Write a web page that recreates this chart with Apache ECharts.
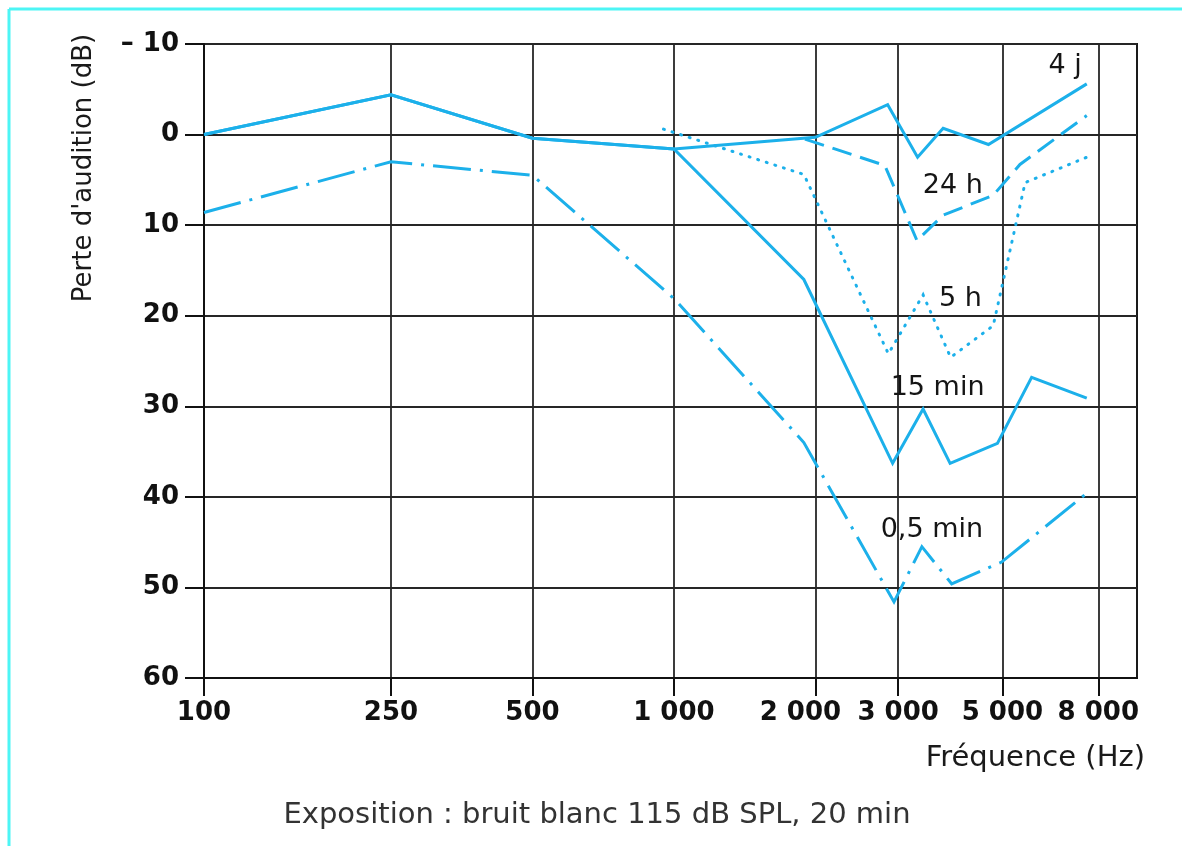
<!DOCTYPE html>
<html><head><meta charset="utf-8">
<script src="https://cdn.jsdelivr.net/npm/echarts@6/dist/echarts.min.js"></script>
<style>html,body{margin:0;padding:0;background:#fff}#c{width:1182px;height:846px}</style>
</head><body><div id="c"></div>
<script>
// ---- data ----
const freqTicks = [100, 250, 500, 1000, 2000, 3000, 5000, 8000];
const yMin = -10, yMax = 60, yStep = 10;

const f4j   = [100, 250, 500, 1000, 2000, 2850, 3300, 3740, 4670, 7560];
const v4j   = [0, -4.4, 0.4, 1.6, 0.3, -3.3, 2.5, -0.7, 1.1, -5.6];

const f24h  = [1900, 2810, 3290, 3740, 4780, 5450, 7560];
const v24h  = [0.5, 3.4, 11.7, 8.9, 6.7, 3.3, -2.1];

const f5h   = [950, 1890, 2860, 3390, 3880, 4780, 5590, 7560];
const v5h   = [-0.6, 4.4, 24.2, 17.7, 24.6, 21.1, 5.3, 2.5];

const f15m  = [100, 250, 500, 1000, 1890, 2920, 3390, 3870, 4880, 5770, 7560];
const v15m  = [0, -4.4, 0.4, 1.6, 16.0, 36.3, 30.3, 36.3, 34.1, 26.8, 29.1];

const f05m  = [100, 250, 500, 1000, 1890, 2940, 3370, 3900, 4980, 7560];
const v05m  = [8.6, 3.0, 4.5, 18.1, 34.0, 51.6, 45.5, 49.6, 47.2, 39.6];

const seriesNames = ['4 j', '24 h', '5 h', '15 min', '0,5 min'];
const labelFreq = [6800, 3920, 4070, 3640, 3540];
const labelVal  = [-7.6, 5.7, 18.1, 28.0, 43.7];

const titleText = 'Exposition : bruit blanc 115 dB SPL, 20 min';
const xName = 'Fréquence (Hz)';
const yName = "Perte d'audition (dB)";

// ---- chart ----
const FONT = 'DejaVu Sans';
const LINE = '#1cb0ea';
const pairs = (f, v) => f.map((x, i) => [x, v[i]]);

const styles = [
  { type: 'solid', cap: 'butt' },
  { type: [20, 9], cap: 'butt' },
  { type: [1, 8], cap: 'round' },
  { type: 'solid', cap: 'butt' },
  { type: [38, 9, 3, 9], cap: 'butt' }
];
const dataSets = [pairs(f4j, v4j), pairs(f24h, v24h), pairs(f5h, v5h), pairs(f15m, v15m), pairs(f05m, v05m)];

const series = seriesNames.map((name, i) => ({
  name: name,
  type: 'line',
  data: dataSets[i],
  showSymbol: false,
  symbol: 'none',
  lineStyle: { color: LINE, width: 3, type: styles[i].type, cap: styles[i].cap, join: 'miter' },
  z: 3,
  markPoint: {
    symbol: 'circle',
    symbolSize: 1,
    itemStyle: { color: 'rgba(0,0,0,0)' },
    label: {
      show: true, position: 'inside', formatter: name,
      fontFamily: FONT, fontSize: 27, color: '#151515'
    },
    data: [{ coord: [labelFreq[i], labelVal[i]] }]
  }
}));

const fmtFreq = v => {
  const n = Math.round(v);
  const s = String(n);
  const t = s.length > 3 ? s.slice(0, s.length - 3) + ' ' + s.slice(-3) : s;
  return n === 2000 ? '{l|' + t + '}' : '{n|' + t + '}';
};
const tickFont = { fontFamily: FONT, fontSize: 26, fontWeight: 'bold', color: '#111' };

const chart = echarts.init(document.getElementById('c'), null, { renderer: 'canvas' });
chart.setOption({
  animation: false,
  backgroundColor: '#fff',
  grid: { left: 204, right: 45, top: 44, bottom: 168, show: true, borderColor: '#1a1a1a', borderWidth: 2, backgroundColor: '#fff' },
  xAxis: {
    type: 'log', logBase: 10, min: 100, max: 9670,
    axisLine: { show: true, onZero: false, lineStyle: { color: '#111', width: 2 } },
    axisTick: { show: true, inside: false, length: 18, customValues: freqTicks, lineStyle: { color: '#111', width: 2 } },
    axisLabel: Object.assign({ show: true, customValues: freqTicks, formatter: fmtFreq, margin: 22,
      rich: { n: Object.assign({}, tickFont), l: Object.assign({ padding: [0, 30, 0, 0] }, tickFont) } }, tickFont),
    splitLine: { show: true, lineStyle: { color: '#262626', width: 1.8 } },
    minorTick: { show: false }, minorSplitLine: { show: false }
  },
  yAxis: {
    type: 'value', min: yMin, max: yMax, interval: yStep, inverse: true,
    axisLine: { show: true, onZero: false, lineStyle: { color: '#111', width: 2 } },
    axisTick: { show: true, inside: false, length: 19, lineStyle: { color: '#111', width: 2 } },
    axisLabel: Object.assign({ margin: 25,
      formatter: v => v < 0 ? '\u2013 ' + Math.abs(v) : String(v) }, tickFont),
    splitLine: { show: true, lineStyle: { color: '#262626', width: 1.8 } }
  },
  series: series,
  graphic: [
    { type: 'line', shape: { x1: 9, y1: 9, x2: 1182, y2: 9 }, style: { stroke: '#4df5f5', lineWidth: 3 }, silent: true },
    { type: 'line', shape: { x1: 9, y1: 9, x2: 9, y2: 846 }, style: { stroke: '#4df5f5', lineWidth: 3 }, silent: true },
    { type: 'text', x: 84, y: 168, rotation: Math.PI / 2,
      style: { text: yName, font: '26px "DejaVu Sans"', fill: '#1a1a1a', align: 'center', verticalAlign: 'middle' } },
    { type: 'text', x: 1145, y: 758,
      style: { text: xName, font: '29px "DejaVu Sans"', fill: '#1a1a1a', align: 'right', verticalAlign: 'middle' } },
    { type: 'text', x: 597, y: 815,
      style: { text: titleText, font: '29px "DejaVu Sans"', fill: '#333', align: 'center', verticalAlign: 'middle' } }
  ]
});
</script>
</body></html>
